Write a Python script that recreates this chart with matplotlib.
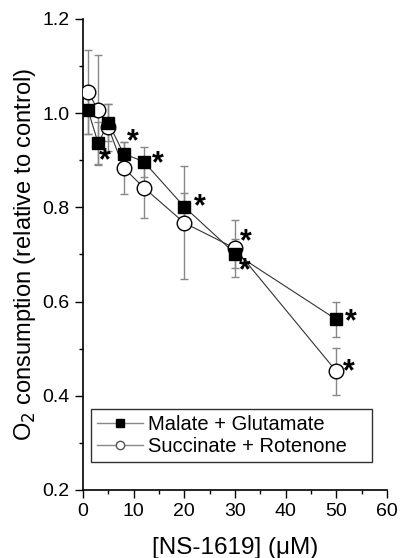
import matplotlib.pyplot as plt
from matplotlib.ticker import MultipleLocator

plt.rcParams['font.family'] = ['Liberation Sans', 'DejaVu Sans']

# NS-1619 concentration (uM)
conc = [1, 3, 5, 8, 12, 20, 30, 50]

# Malate + Glutamate
mg_y   = [1.006, 0.936, 0.980, 0.914, 0.897, 0.801, 0.702, 0.562]
mg_err = [0.050, 0.045, 0.040, 0.025, 0.032, 0.030, 0.030, 0.037]
mg_star = [False, True, False, True, True, True, True, True]

# Succinate + Rotenone
sr_y   = [1.045, 1.006, 0.970, 0.884, 0.842, 0.767, 0.713, 0.452]
sr_err = [0.090, 0.117, 0.050, 0.055, 0.065, 0.120, 0.060, 0.050]
sr_star = [False, False, False, False, False, False, True, True]

# where each asterisk sits next to its marker (pixels right, pixels down)
mg_star_px = [None, (7, 14), None, (9, -16), (14, -2), (15, -4), (10, 13), (15, -1)]
sr_star_px = [None, None, None, None, None, None, (11, -10), (13, -3)]

fig = plt.figure(figsize=(4.01, 5.58), dpi=100)
ax = fig.add_axes([0.207, 0.122, 0.758, 0.844])

ax.errorbar(conc, mg_y, yerr=mg_err, fmt='none', ecolor='#888888',
            elinewidth=1.0, capsize=3, capthick=1.0, zorder=1)
ax.errorbar(conc, sr_y, yerr=sr_err, fmt='none', ecolor='#888888',
            elinewidth=1.0, capsize=3, capthick=1.0, zorder=1)

ax.plot(conc, mg_y, '-', color='#333333', lw=0.8, zorder=2)
ax.plot(conc, sr_y, '-', color='#333333', lw=0.8, zorder=2)
ax.plot(conc, sr_y, 'o', ms=10.5, mfc='white', mec='black', mew=1.0, zorder=3)
ax.plot(conc, mg_y, 's', ms=9, mfc='black', mec='black', zorder=4)

# legend proxies
ax.plot([], [], '-s', color='#888888', mfc='black', mec='black', ms=6,
        lw=1.0, label='Malate + Glutamate')
ax.plot([], [], '-o', color='#888888', mfc='white', mec='#555555', ms=6,
        lw=1.0, label='Succinate + Rotenone')


def stars(ys, flags, offs):
    for x, y, s, off in zip(conc, ys, flags, offs):
        if s:
            ax.annotate('*', (x, y), xytext=(off[0] * 0.72, -off[1] * 0.72 - 3.1),
                        textcoords='offset points', fontsize=22, fontweight='bold',
                        va='center', ha='center', zorder=5)


stars(mg_y, mg_star, mg_star_px)
stars(sr_y, sr_star, sr_star_px)

ax.set_xlim(0, 60)
ax.set_ylim(0.2, 1.2)
ax.xaxis.set_major_locator(MultipleLocator(10))
ax.xaxis.set_minor_locator(MultipleLocator(5))
ax.yaxis.set_major_locator(MultipleLocator(0.2))
ax.yaxis.set_minor_locator(MultipleLocator(0.1))
ax.yaxis.set_major_formatter(plt.FormatStrFormatter('%.1f'))
ax.tick_params(which='major', direction='out', length=6, width=1, labelsize=14)
ax.tick_params(which='minor', direction='out', length=3, width=1)
for side in ['top', 'right']:
    ax.spines[side].set_visible(False)
ax.spines['left'].set_linewidth(1.2)
ax.spines['bottom'].set_linewidth(1.2)

ax.set_xlabel('[NS-1619] (\u03bcM)', fontsize=17.5, labelpad=12)
ax.set_ylabel('O$_2$ consumption (relative to control)', fontsize=17, labelpad=3)

leg = ax.legend(loc='lower left', bbox_to_anchor=(0.026, 0.059, 0.924, 0.1),
                mode='expand', fontsize=14.5,
                frameon=True, fancybox=False, edgecolor='black',
                handlelength=2.3, handletextpad=0.25, borderpad=0.3,
                labelspacing=0.15, borderaxespad=0)
leg.get_frame().set_linewidth(1.0)

fig.savefig('out.png', dpi=100)
